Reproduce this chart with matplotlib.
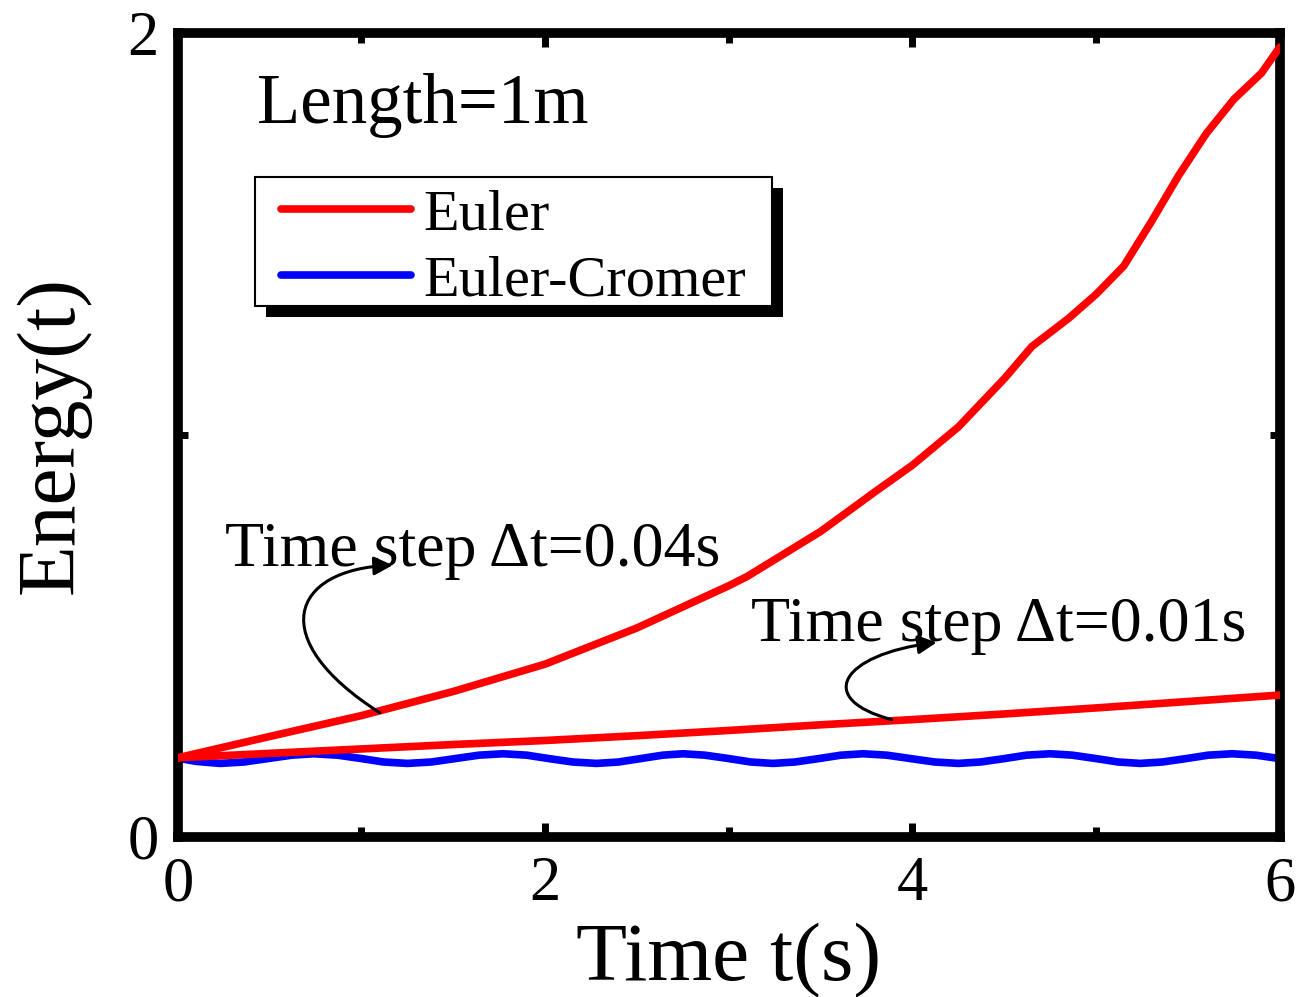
import matplotlib
matplotlib.use("Agg")
import matplotlib.pyplot as plt
from matplotlib.ticker import MultipleLocator
from matplotlib.patches import Rectangle, FancyArrowPatch
from matplotlib.path import Path

plt.rcParams['font.family'] = ['Liberation Serif', 'DejaVu Serif']

# ---- data ----
t_euler_004 = [0, 0.5, 1.0, 1.5, 2.0, 2.5, 3.0, 3.1, 3.5, 3.8, 4.0, 4.25, 4.5,
               4.65, 4.85, 5.0, 5.15, 5.3, 5.45, 5.6, 5.75, 5.9, 6.0]
e_euler_004 = [0.197, 0.25, 0.302, 0.362, 0.43, 0.52, 0.625, 0.648, 0.76, 0.86,
               0.925, 1.02, 1.14, 1.22, 1.29, 1.35, 1.42, 1.53, 1.646, 1.75,
               1.835, 1.90, 1.965]

t_euler_001 = [0, 0.5, 1, 1.5, 2, 2.5, 3, 3.5, 4, 4.5, 5, 5.5, 6]
e_euler_001 = [0.197, 0.208, 0.219, 0.23, 0.24, 0.252, 0.265, 0.279, 0.292,
               0.306, 0.321, 0.337, 0.353]

t_cromer = [0, 0.1, 0.23, 0.36, 0.49, 0.62, 0.74, 0.87, 1.0, 1.12, 1.25, 1.38,
            1.51, 1.64, 1.77, 1.9, 2.02, 2.15, 2.28, 2.4, 2.52, 2.64, 2.75,
            2.87, 3.0, 3.12, 3.24, 3.36, 3.49, 3.61, 3.73, 3.86, 3.99, 4.12,
            4.25, 4.37, 4.5, 4.62, 4.75, 4.87, 5.0, 5.12, 5.24, 5.36, 5.49,
            5.61, 5.74, 5.87, 6.0]
e_cromer = [0.196, 0.188, 0.183, 0.1865, 0.195, 0.2035, 0.207, 0.2035, 0.195,
            0.1865, 0.183, 0.1865, 0.195, 0.2035, 0.207, 0.2035, 0.195, 0.1865,
            0.183, 0.1865, 0.195, 0.2035, 0.207, 0.2035, 0.195, 0.1865, 0.183,
            0.1865, 0.195, 0.2035, 0.207, 0.2035, 0.195, 0.1865, 0.183, 0.1865,
            0.195, 0.2035, 0.207, 0.2035, 0.195, 0.1865, 0.183, 0.1865, 0.195,
            0.2035, 0.207, 0.2035, 0.195]

x_ticks = [0, 2, 4, 6]
y_ticks = [0, 2]
x_ticklabels = ['0', '2', '4', '6']
y_ticklabels = ['0', '2']

fig = plt.figure(figsize=(12.98, 9.97), dpi=100)
ax = fig.add_axes([0.137, 0.1605, 0.849, 0.8065])

ax.plot(t_euler_004, e_euler_004, color='#ff0000', lw=5.5, label='Euler',
        solid_capstyle='round', zorder=3)
ax.plot(t_euler_001, e_euler_001, color='#ff0000', lw=5.5,
        solid_capstyle='round', zorder=3)
ax.plot(t_cromer, e_cromer, color='#0000ff', lw=5.5, label='Euler-Cromer',
        solid_capstyle='round', zorder=2)

ax.set_xlim(0, 6)
ax.set_ylim(0, 2)
ax.set_xticks(x_ticks)
ax.set_xticklabels(x_ticklabels)
ax.set_yticks(y_ticks)
ax.set_yticklabels(y_ticklabels)
ax.xaxis.set_minor_locator(MultipleLocator(1))
ax.yaxis.set_minor_locator(MultipleLocator(1))

for s in ax.spines.values():
    s.set_linewidth(7)
ax.tick_params(which='both', direction='in', top=True, right=True,
               width=5, labelsize=45)
ax.tick_params(which='major', length=10)
ax.tick_params(which='minor', length=7)
ax.tick_params(axis='x', which='major', pad=14)
ax.tick_params(axis='y', which='major', pad=14)

ax.set_xlabel('Time t(s)', fontsize=60, labelpad=6)
ax.set_ylabel('Energy(t)', fontsize=60, labelpad=26)

ax.text(0.072, 0.888, 'Length=1m', transform=ax.transAxes, fontsize=51,
        ha='left', va='baseline')

# legend box with hard black shadow
box_x0, box_y0, box_w, box_h = 0.0699, 0.6604, 0.469, 0.1606
sh_dx, sh_dy = 0.0100, 0.0137
ax.add_patch(Rectangle((box_x0 + sh_dx, box_y0 - sh_dy), box_w, box_h,
                       transform=ax.transAxes, facecolor='black',
                       edgecolor='black', lw=0, zorder=5))
ax.add_patch(Rectangle((box_x0, box_y0), box_w, box_h,
                       transform=ax.transAxes, facecolor='white',
                       edgecolor='black', lw=1.5, zorder=6))
leg = ax.legend(loc='upper left', bbox_to_anchor=(0.0935, 0.8060),
                borderaxespad=0, borderpad=0, fontsize=42, frameon=False,
                handlelength=2.23, handletextpad=0.22, labelspacing=0.22)
leg.set_zorder(7)
for line in leg.get_lines():
    line.set_linewidth(5.5)

# annotations
ax.text(0.255, 0.673, 'Time step Δt=0.04s', fontsize=46,
        ha='left', va='baseline')
ax.text(3.12, 0.487, 'Time step Δt=0.01s', fontsize=46,
        ha='left', va='baseline')

arrow_paths = [
    [(1.100, 0.309), (0.474, 0.491), (0.610, 0.666), (1.170, 0.676)],
    [(3.887, 0.292), (3.468, 0.342), (3.604, 0.454), (4.132, 0.484)],
]
for pts in arrow_paths:
    p = Path(pts, [Path.MOVETO, Path.CURVE4, Path.CURVE4, Path.CURVE4])
    arr = FancyArrowPatch(path=p, arrowstyle='-|>', mutation_scale=28,
                          color='black', lw=2.2, transform=ax.transData,
                          zorder=4)
    ax.add_patch(arr)

fig.savefig('out.png', dpi=100)
